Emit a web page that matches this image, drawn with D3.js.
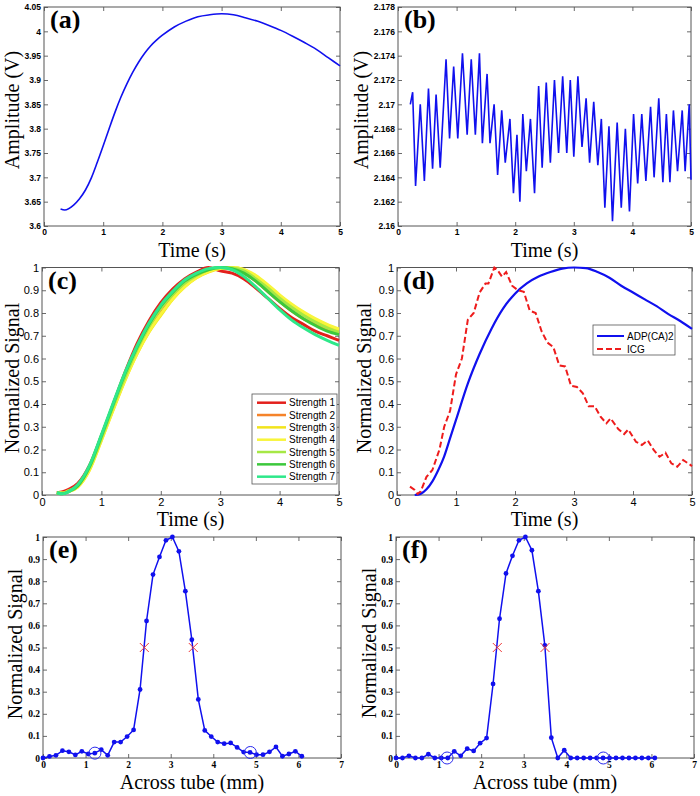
<!DOCTYPE html>
<html><head><meta charset="utf-8">
<script src="https://cdn.jsdelivr.net/npm/d3@7"></script>
<style>body{margin:0;background:#fff}svg{display:block}</style>
</head><body>
<script>
// ---------- DATA ----------
// (a) ADP(CA)2 amplitude vs time
const timeA = [0.28,0.35,0.5,0.6,0.7,0.8,0.9,1.0,1.1,1.2,1.3,1.4,1.5,1.6,1.7,1.8,1.9,2.0,2.2,2.4,2.6,2.8,3.0,3.2,3.4,3.6,3.8,4.0,4.2,4.4,4.6,4.8,5.0];
const ampA = [3.635,3.633,3.643,3.656,3.674,3.699,3.731,3.765,3.800,3.834,3.865,3.892,3.916,3.937,3.955,3.970,3.982,3.992,4.009,4.021,4.030,4.034,4.036,4.034,4.028,4.021,4.012,4.002,3.990,3.977,3.963,3.946,3.929];
// (b) ICG amplitude vs time (peaks/troughs)
const timeB = [0.21,0.25,0.30,0.38,0.45,0.52,0.59,0.65,0.72,0.82,0.88,0.95,1.02,1.10,1.18,1.25,1.32,1.39,1.44,1.52,1.57,1.64,1.70,1.77,1.83,1.91,1.97,2.03,2.08,2.13,2.19,2.26,2.33,2.40,2.46,2.53,2.60,2.67,2.74,2.81,2.88,2.94,3.00,3.07,3.14,3.21,3.27,3.34,3.41,3.47,3.53,3.60,3.66,3.74,3.81,3.88,3.95,4.02,4.09,4.16,4.23,4.31,4.37,4.45,4.52,4.58,4.64,4.70,4.77,4.85,4.90,4.97,5.0];
const ampB = [2.1700,2.1710,2.1633,2.1700,2.1637,2.1713,2.1647,2.1708,2.1648,2.1737,2.1672,2.1731,2.1672,2.1742,2.1675,2.1737,2.1675,2.1742,2.1668,2.1725,2.1668,2.1700,2.1642,2.1695,2.1652,2.1688,2.1627,2.1675,2.1620,2.1692,2.1645,2.1688,2.1627,2.1715,2.1648,2.1718,2.1652,2.1720,2.1660,2.1723,2.1660,2.1720,2.1657,2.1723,2.1665,2.1705,2.1652,2.1702,2.1650,2.1688,2.1615,2.1682,2.1604,2.1685,2.1615,2.1680,2.1612,2.1692,2.1635,2.1692,2.1637,2.1698,2.1640,2.1705,2.1636,2.1692,2.1636,2.1695,2.1645,2.1695,2.1645,2.1700,2.1638];
// (c) normalized signal for 7 strengths
const timeC = [0.25,0.35,0.45,0.6,0.8,1.0,1.2,1.4,1.6,1.8,2.0,2.2,2.4,2.6,2.8,3.0,3.2,3.4,3.6,3.8,4.0,4.2,4.4,4.6,4.8,5.0];
const strength1 = [0.01,0.015,0.025,0.05,0.13,0.26,0.40,0.54,0.665,0.765,0.845,0.905,0.95,0.98,1.0,0.985,0.975,0.95,0.91,0.865,0.82,0.78,0.75,0.72,0.70,0.68];
const strength2 = [0.01,0.01,0.02,0.04,0.12,0.25,0.385,0.515,0.63,0.725,0.80,0.87,0.92,0.96,0.985,0.998,0.995,0.975,0.94,0.895,0.85,0.81,0.775,0.75,0.73,0.71];
const strength3 = [0.01,0.008,0.015,0.035,0.11,0.24,0.375,0.505,0.62,0.715,0.79,0.86,0.915,0.955,0.98,0.995,1.0,0.99,0.96,0.92,0.875,0.835,0.80,0.77,0.745,0.725];
const strength4 = [0.01,0.008,0.016,0.036,0.112,0.242,0.378,0.508,0.622,0.718,0.795,0.862,0.915,0.955,0.982,0.997,1.0,0.992,0.965,0.925,0.88,0.84,0.805,0.775,0.75,0.73];
const strength5 = [0.01,0.008,0.018,0.04,0.12,0.25,0.39,0.52,0.64,0.74,0.82,0.88,0.93,0.965,0.99,1.0,0.998,0.985,0.95,0.91,0.865,0.825,0.79,0.76,0.735,0.715];
const strength6 = [0.01,0.005,0.015,0.04,0.125,0.26,0.40,0.535,0.65,0.75,0.83,0.89,0.94,0.97,0.99,1.0,0.995,0.975,0.94,0.895,0.85,0.81,0.775,0.745,0.72,0.705];
const strength7 = [0.01,0.005,0.015,0.045,0.13,0.265,0.405,0.54,0.655,0.755,0.835,0.895,0.945,0.975,0.995,1.0,0.99,0.96,0.915,0.865,0.815,0.77,0.735,0.705,0.68,0.658];
const strengthNames = ["Strength 1","Strength 2","Strength 3","Strength 4","Strength 5","Strength 6","Strength 7"];
const strengthColors = ["#e3201c","#f5832a","#f2e41c","#f8f53a","#a6e845","#3cc83c","#2ee88a"];
// (d) normalized ADP(CA)2 and ICG
const timeD = [0.3,0.4,0.5,0.6,0.7,0.8,0.9,1.0,1.2,1.4,1.6,1.8,2.0,2.2,2.4,2.6,2.8,3.0,3.2,3.4,3.6,3.8,4.0,4.2,4.4,4.6,4.8,5.0];
const adpD = [0.0,0.005,0.025,0.06,0.11,0.17,0.25,0.33,0.49,0.62,0.73,0.82,0.885,0.93,0.96,0.98,0.995,1.0,0.997,0.98,0.955,0.92,0.89,0.86,0.83,0.795,0.765,0.73];
const timeI = [0.22,0.3,0.35,0.4,0.5,0.6,0.72,0.8,0.9,1.0,1.1,1.2,1.3,1.4,1.5,1.55,1.65,1.7,1.78,1.85,1.95,2.05,2.15,2.25,2.35,2.45,2.55,2.65,2.75,2.85,2.95,3.05,3.15,3.25,3.35,3.45,3.55,3.62,3.75,3.85,3.92,4.05,4.15,4.25,4.35,4.45,4.55,4.65,4.75,4.85,4.95,5.0];
const icgD = [0.037,0.022,0.005,0.015,0.08,0.11,0.2,0.3,0.37,0.53,0.6,0.77,0.8,0.89,0.93,0.93,1.0,0.99,0.96,0.98,0.92,0.9,0.893,0.81,0.8,0.72,0.67,0.65,0.57,0.565,0.48,0.475,0.447,0.39,0.39,0.344,0.315,0.337,0.29,0.268,0.288,0.234,0.22,0.24,0.198,0.168,0.186,0.139,0.124,0.154,0.136,0.127];
// (e),(f) profiles across tube
const acrossMM = [0,0.152,0.304,0.456,0.608,0.76,0.912,1.064,1.216,1.368,1.52,1.672,1.824,1.976,2.128,2.28,2.432,2.584,2.736,2.888,3.04,3.192,3.344,3.496,3.648,3.8,3.952,4.104,4.256,4.408,4.56,4.712,4.864,5.016,5.168,5.32,5.472,5.624,5.776,5.928,6.08];
const profileE = [0,0.007,0.012,0.033,0.028,0.014,0.03,0.018,0.022,0.038,0.012,0.072,0.072,0.097,0.127,0.31,0.62,0.83,0.91,0.985,1.0,0.935,0.755,0.535,0.265,0.125,0.097,0.072,0.065,0.068,0.048,0.027,0.025,0.015,0.015,0.028,0.05,0.008,0.018,0.03,0.008];
const profileF = [0,0,0.01,0,0,0.017,0,0,0,0.03,0.01,0.042,0.032,0.067,0.09,0.335,0.63,0.835,0.915,0.985,1.0,0.94,0.755,0.51,0.092,0,0.035,0,0,0,0,0,0,0,0,0,0,0,0,0,0];
const halfMaxE = [[2.38,0.5],[3.53,0.5]];
const halfMaxF = [[2.38,0.5],[3.50,0.5]];
const circlesE = [[1.22,0.022],[4.87,0.025]];
const circlesF = [[1.2,0],[4.87,0]];

const timeTicks = [0,1,2,3,4,5];
const ticksA = [3.6,3.65,3.7,3.75,3.8,3.85,3.9,3.95,4,4.05];
const ticksB = [2.16,2.162,2.164,2.166,2.168,2.17,2.172,2.174,2.176,2.178];
const normTicks = [0,0.1,0.2,0.3,0.4,0.5,0.6,0.7,0.8,0.9,1];
const mmTicks = [0,1,2,3,4,5,6,7];

// ---------- DRAW ----------
const svg = d3.select("body").append("svg").attr("width",700).attr("height",796);
const serif = "'Liberation Serif','Times New Roman',serif";
const sans = "'Liberation Sans',Arial,sans-serif";

function panel(c){
  const x = d3.scaleLinear().domain(c.xd).range([c.x0,c.x1]);
  const y = d3.scaleLinear().domain(c.yd).range([c.y1,c.y0]);
  const g = svg.append("g");
  const fmt = d3.format("~g");
  const ax = (gen, tr, labels) => {
    const a = g.append("g").attr("transform",tr).call(gen.tickSizeInner(-4).tickSizeOuter(0).tickPadding(c.pad||3).tickFormat(labels?fmt:""));
    a.select(".domain").remove();
    a.selectAll(".tick line").attr("stroke","#444").attr("stroke-width",0.8);
    a.selectAll("text").attr("fill","#000").style("font-family",c.tf).style("font-size",c.ts+"px").style("font-weight",c.tw);
  };
  ax(d3.axisBottom(x).tickValues(c.xt), `translate(0,${c.y1})`, true);
  ax(d3.axisTop(x).tickValues(c.xt), `translate(0,${c.y0})`, false);
  ax(d3.axisLeft(y).tickValues(c.yt), `translate(${c.x0},0)`, true);
  ax(d3.axisRight(y).tickValues(c.yt), `translate(${c.x1},0)`, false);
  g.append("rect").attr("x",c.x0).attr("y",c.y0).attr("width",c.x1-c.x0).attr("height",c.y1-c.y0)
    .attr("fill","none").attr("stroke","#555").attr("stroke-width",1);
  g.append("text").attr("x",(c.x0+c.x1)/2).attr("y",c.y1+31).attr("text-anchor","middle")
    .style("font-family",serif).style("font-size","20px").text(c.xl);
  g.append("text").attr("transform",`translate(${c.ylx},${c.yly}) rotate(-90)`).attr("dy","0.35em").attr("text-anchor","middle")
    .style("font-family",serif).style("font-size","20px").text(c.yl);
  g.append("text").attr("x",c.x0+6).attr("y",c.y0+21).style("font-family",serif).style("font-weight","bold")
    .style("font-size","26px").text(c.letter);
  return {g,x,y};
}
const line = (p,xs,ys,curve) => d3.line().curve(curve||d3.curveLinear).x((d,i)=>p.x(xs[i])).y((d,i)=>p.y(ys[i]))(ys);

// (a)
const pa = panel({x0:44,x1:340,y0:7,y1:226,xd:[0,5],yd:[3.6,4.05],xt:timeTicks,yt:ticksA,tf:sans,ts:8.5,tw:"bold",
  xl:"Time (s)",yl:"Amplitude (V)",ylx:12,yly:110,letter:"(a)"});
pa.g.append("path").attr("d",line(pa,timeA,ampA,d3.curveMonotoneX)).attr("fill","none").attr("stroke","#1010ee").attr("stroke-width",1.6);

// (b)
const pb = panel({x0:398,x1:691,y0:7,y1:226,xd:[0,5],yd:[2.16,2.178],xt:timeTicks,yt:ticksB,tf:sans,ts:8.5,tw:"bold",
  xl:"Time (s)",yl:"Amplitude (V)",ylx:361,yly:110,letter:"(b)"});
pb.g.append("path").attr("d",line(pb,timeB,ampB)).attr("fill","none").attr("stroke","#1010ee").attr("stroke-width",1.6);

// (c)
const pc = panel({x0:42,x1:339,y0:267.5,y1:495,xd:[0,5],yd:[0,1],xt:timeTicks,yt:normTicks,tf:sans,ts:11,tw:"normal",
  xl:"Time (s)",yl:"Normalized Signal",ylx:12,yly:378,letter:"(c)"});
const strengths = [strength1,strength2,strength3,strength4,strength5,strength6,strength7];
strengths.forEach((s,k)=>{
  pc.g.append("path").attr("d",line(pc,timeC,s,d3.curveMonotoneX))
    .attr("fill","none").attr("stroke",strengthColors[k]).attr("stroke-width",3);
});
{
  const lg = pc.g.append("g");
  lg.append("rect").attr("x",252).attr("y",394).attr("width",85).attr("height",90).attr("fill","#fff").attr("stroke","#555").attr("stroke-width",0.8);
  strengthNames.forEach((n,k)=>{
    const yy = 402.7 + k*12.33;
    lg.append("line").attr("x1",257).attr("x2",286).attr("y1",yy).attr("y2",yy).attr("stroke",strengthColors[k]).attr("stroke-width",2.5);
    lg.append("text").attr("x",289).attr("y",yy).attr("dy","0.35em").style("font-family",sans).style("font-size","10px").text(n);
  });
}

// (d)
const pd = panel({x0:397,x1:692,y0:267.5,y1:495,xd:[0,5],yd:[0,1],xt:timeTicks,yt:normTicks,tf:sans,ts:11,tw:"normal",
  xl:"Time (s)",yl:"Normalized Signal",ylx:364,yly:378,letter:"(d)"});
pd.g.append("path").attr("d",line(pd,timeD,adpD,d3.curveMonotoneX))
  .attr("fill","none").attr("stroke","#1010ee").attr("stroke-width",2.2);
pd.g.append("path").attr("d",line(pd,timeI,icgD)).attr("fill","none").attr("stroke","#ee1c1c").attr("stroke-width",2).attr("stroke-dasharray","6,3");
{
  const lg = pd.g.append("g");
  lg.append("rect").attr("x",593).attr("y",325).attr("width",82).attr("height",30).attr("fill","#fff").attr("stroke","#555").attr("stroke-width",0.8);
  lg.append("line").attr("x1",597).attr("x2",624).attr("y1",336).attr("y2",336).attr("stroke","#1010ee").attr("stroke-width",2);
  lg.append("text").attr("x",627).attr("y",336).attr("dy","0.35em").style("font-family",sans).style("font-size","10px").text("ADP(CA)2");
  lg.append("line").attr("x1",597).attr("x2",624).attr("y1",349).attr("y2",349).attr("stroke","#ee1c1c").attr("stroke-width",2).attr("stroke-dasharray","6,3");
  lg.append("text").attr("x",627).attr("y",349).attr("dy","0.35em").style("font-family",sans).style("font-size","10px").text("ICG");
}

// (e),(f)
function profile(p, ys, hm, circ){
  p.g.append("path").attr("d",line(p,acrossMM,ys)).attr("fill","none").attr("stroke","#1010ee").attr("stroke-width",1.5);
  p.g.selectAll(null).data(ys).join("circle").attr("cx",(d,i)=>p.x(acrossMM[i])).attr("cy",d=>p.y(d)).attr("r",2.4).attr("fill","#1010ee");
  hm.forEach(([a,b])=>{
    const cx=p.x(a), cy=p.y(b), s=4.5;
    p.g.append("path").attr("d",`M${cx-s},${cy-s}L${cx+s},${cy+s}M${cx-s},${cy+s}L${cx+s},${cy-s}`).attr("stroke","#f03a3a").attr("stroke-width",1);
  });
  circ.forEach(([a,b])=>{
    p.g.append("circle").attr("cx",p.x(a)).attr("cy",p.y(b)).attr("r",6).attr("fill","none").attr("stroke","#2a2aee").attr("stroke-width",1);
  });
}
const pe = panel({x0:43,x1:341,y0:537,y1:758,xd:[0,7],yd:[0,1],xt:mmTicks,yt:normTicks,tf:serif,ts:9.5,tw:"bold",
  xl:"Across tube (mm)",yl:"Normalized Signal",ylx:15,yly:644,letter:"(e)"});
profile(pe, profileE, halfMaxE, circlesE);
const pf = panel({x0:396,x1:694,y0:537,y1:758,xd:[0,7],yd:[0,1],xt:mmTicks,yt:normTicks,tf:serif,ts:9.5,tw:"bold",
  xl:"Across tube (mm)",yl:"Normalized Signal",ylx:369,yly:643,letter:"(f)"});
profile(pf, profileF, halfMaxF, circlesF);
</script>
</body></html>
